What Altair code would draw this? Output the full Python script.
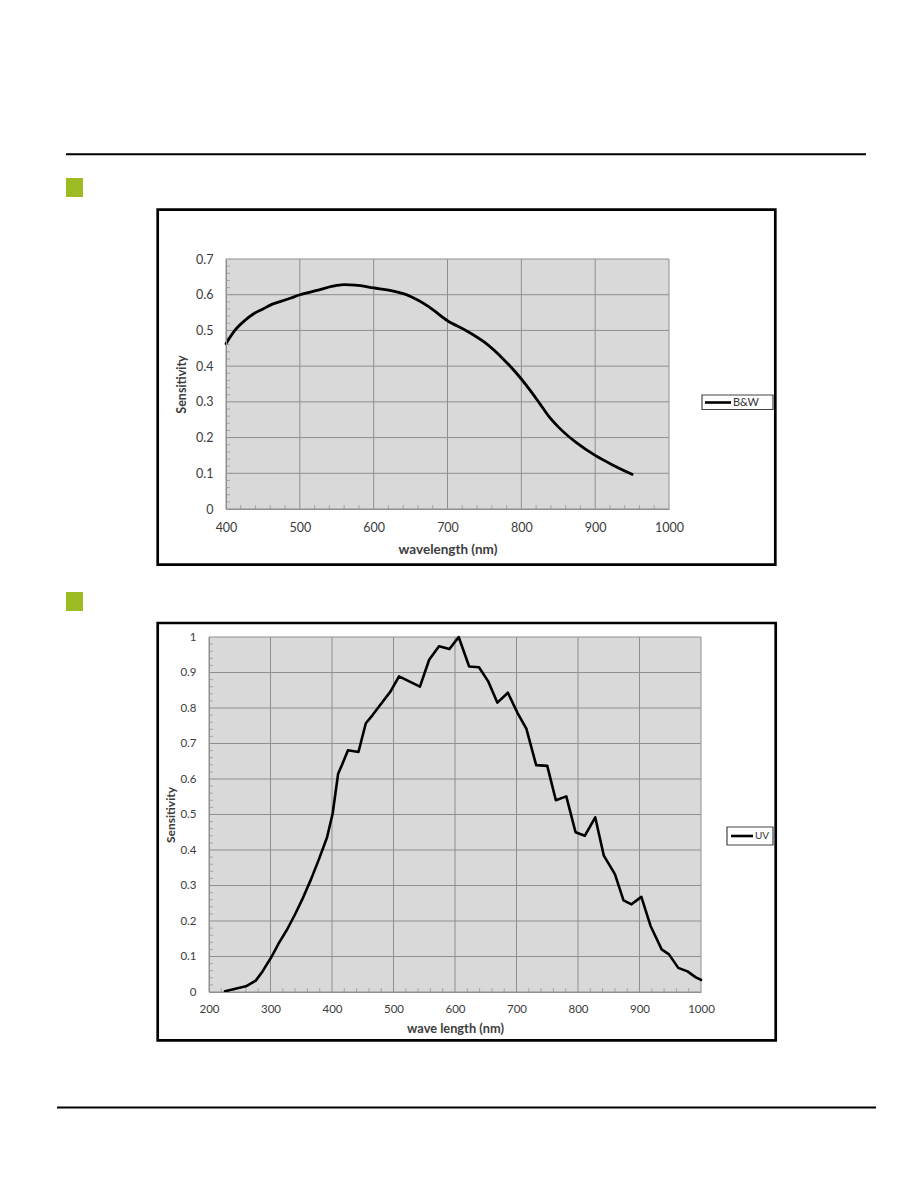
import altair as alt
import pandas as pd

# ---------------- data ----------------
bw_wavelength = [400, 412, 425, 437, 450, 462, 475, 487, 500, 525, 550, 560, 575, 600,
                 625, 640, 650, 675, 700, 725, 750, 775, 800, 812, 825, 837, 850, 875,
                 900, 925, 950]
bw_sensitivity = [0.463, 0.500, 0.527, 0.546, 0.560, 0.573, 0.582, 0.590, 0.600, 0.613,
                  0.626, 0.628, 0.627, 0.619, 0.611, 0.603, 0.595, 0.566, 0.527, 0.500,
                  0.467, 0.421, 0.364, 0.332, 0.295, 0.260, 0.230, 0.185, 0.150, 0.122,
                  0.097]

uv_wavelength = [226, 248, 260, 276, 287, 302, 314, 327, 340, 353, 366, 379, 392, 401,
                 410, 417, 426, 443, 455, 466, 478, 495, 509, 543, 558, 574, 591, 606,
                 623, 639, 654, 669, 686, 702, 716, 732, 750, 764, 781, 796, 811, 828,
                 842, 860, 874, 887, 903, 918, 936, 948, 963, 978, 991, 1000]
uv_sensitivity = [0.002, 0.011, 0.016, 0.032, 0.058, 0.100, 0.139, 0.176, 0.219, 0.266,
                  0.318, 0.375, 0.436, 0.502, 0.615, 0.643, 0.681, 0.676, 0.757, 0.780,
                  0.808, 0.846, 0.889, 0.860, 0.936, 0.974, 0.966, 1.000, 0.917, 0.915,
                  0.875, 0.815, 0.843, 0.785, 0.742, 0.639, 0.637, 0.540, 0.551, 0.450,
                  0.440, 0.492, 0.384, 0.332, 0.258, 0.247, 0.268, 0.186, 0.120, 0.106,
                  0.068, 0.058, 0.042, 0.034]

bw_xticks = [400, 500, 600, 700, 800, 900, 1000]
bw_yticks = [0, 0.1, 0.2, 0.3, 0.4, 0.5, 0.6, 0.7]
uv_xticks = [200, 300, 400, 500, 600, 700, 800, 900, 1000]
uv_yticks = [0, 0.1, 0.2, 0.3, 0.4, 0.5, 0.6, 0.7, 0.8, 0.9, 1]

# minor (inward) tick marks, as in the reference
bw_xminor = [420, 440, 460, 480, 520, 540, 560, 580, 620, 640, 660, 680, 720, 740, 760,
             780, 820, 840, 860, 880, 920, 940, 960, 980]
bw_yminor = [0.02, 0.04, 0.06, 0.08, 0.12, 0.14, 0.16, 0.18, 0.22, 0.24, 0.26, 0.28,
             0.32, 0.34, 0.36, 0.38, 0.42, 0.44, 0.46, 0.48, 0.52, 0.54, 0.56, 0.58,
             0.62, 0.64, 0.66, 0.68]
uv_xminor = [220, 240, 260, 280, 320, 340, 360, 380, 420, 440, 460, 480, 520, 540, 560,
             580, 620, 640, 660, 680, 720, 740, 760, 780, 820, 840, 860, 880, 920, 940,
             960, 980]
uv_yminor = [0.02, 0.04, 0.06, 0.08, 0.12, 0.14, 0.16, 0.18, 0.22, 0.24, 0.26, 0.28,
             0.32, 0.34, 0.36, 0.38, 0.42, 0.44, 0.46, 0.48, 0.52, 0.54, 0.56, 0.58,
             0.62, 0.64, 0.66, 0.68, 0.72, 0.74, 0.76, 0.78, 0.82, 0.84, 0.86, 0.88,
             0.92, 0.94, 0.96, 0.98]

series_names = ["B&W", "UV"]
x_titles = ["wavelength (nm)", "wave length (nm)"]
y_title = "Sensitivity"

# ---------------- styles ----------------
FONT = "Lato"
LABEL_COLOR = "#3c3c3c"
GRID_COLOR = "#8f8f8f"
PLOT_BG = "#d9d9d9"
GREEN = "#9dbb22"

one = pd.DataFrame({"k": [0]})


def hrule(x1, x2, y, w, color="black"):
    return alt.Chart(one).mark_rule(color=color, strokeWidth=w).encode(
        x=alt.value(x1), x2=alt.value(x2), y=alt.value(y))


def box(x1, x2, y1, y2, fill=None, stroke=None, sw=0):
    kw = {}
    if fill is not None:
        kw["fill"] = fill
    else:
        kw["fillOpacity"] = 0
    if stroke is not None:
        kw["stroke"] = stroke
        kw["strokeWidth"] = sw
    return alt.Chart(one).mark_rect(**kw).encode(
        x=alt.value(x1), x2=alt.value(x2), y=alt.value(y1), y2=alt.value(y2))


def label(x, y, txt, size, color="#333333"):
    return alt.Chart(one).mark_text(
        font=FONT, fontSize=size, color=color, align="left", baseline="middle"
    ).encode(x=alt.value(x), y=alt.value(y), text=alt.value(txt))


def panel(wl, sens, xticks, yticks, xminor, yminor, xr, yr, xtitle, title_x,
          title_y_x, title_y_y, xtitle_dy, lab_size, xtitle_size, ytitle_size,
          x_pad, y_pad, line_w, interp):
    xs = alt.Scale(domain=[xticks[0], xticks[-1]], range=xr, nice=False, zero=False)
    ys = alt.Scale(domain=[yticks[0], yticks[-1]], range=yr, nice=False, zero=False)
    xaxis = alt.Axis(
        orient="bottom", offset=yr[0] - 1188, values=xticks, format="d", grid=False,
        ticks=False, tickSize=0, labelPadding=x_pad, labelFlush=False, labelOverlap=False,
        labelFont=FONT, labelFontSize=lab_size, labelColor=LABEL_COLOR,
        domainColor=GRID_COLOR, domainWidth=1,
        title=xtitle, titleFont=FONT, titleFontSize=xtitle_size, titleFontWeight="bold",
        titleColor=LABEL_COLOR, titleX=title_x, titleY=xtitle_dy, titleAngle=0,
        titleAlign="center", titleBaseline="middle", zindex=1)
    yaxis = alt.Axis(
        orient="left", offset=-xr[0], values=yticks, format="~g", grid=False,
        ticks=False, tickSize=0, labelPadding=y_pad, labelFlush=False, labelOverlap=False,
        labelFont=FONT, labelFontSize=lab_size, labelColor=LABEL_COLOR,
        domainColor=GRID_COLOR, domainWidth=1,
        title=y_title, titleFont=FONT, titleFontSize=ytitle_size, titleFontWeight="bold",
        titleColor=LABEL_COLOR, titleX=title_y_x - xr[0], titleY=title_y_y, titleAngle=270,
        titleAlign="center", titleBaseline="middle", zindex=1)

    corner = pd.DataFrame({"x0": [xticks[0]], "x1": [xticks[-1]],
                           "y0": [yticks[0]], "y1": [yticks[-1]]})
    bg = alt.Chart(corner).mark_rect(fill=PLOT_BG).encode(
        x=alt.X("x0:Q", scale=xs, axis=xaxis), x2="x1",
        y=alt.Y("y0:Q", scale=ys, axis=yaxis), y2="y1")
    vg = alt.Chart(pd.DataFrame({"t": xticks, "lo": [yticks[0]] * len(xticks),
                                 "hi": [yticks[-1]] * len(xticks)})).mark_rule(
        color=GRID_COLOR, strokeWidth=1).encode(
        x=alt.X("t:Q", scale=xs, axis=xaxis),
        y=alt.Y("lo:Q", scale=ys, axis=yaxis), y2="hi")
    hg = alt.Chart(pd.DataFrame({"t": yticks, "lo": [xticks[0]] * len(yticks),
                                 "hi": [xticks[-1]] * len(yticks)})).mark_rule(
        color=GRID_COLOR, strokeWidth=1).encode(
        y=alt.Y("t:Q", scale=ys, axis=yaxis),
        x=alt.X("lo:Q", scale=xs, axis=xaxis), x2="hi")
    mx = alt.Chart(pd.DataFrame({"t": xminor})).mark_tick(
        color=GRID_COLOR, size=4, thickness=1, orient="vertical").encode(
        x=alt.X("t:Q", scale=xs, axis=xaxis), y=alt.value(yr[0] - 2))
    my = alt.Chart(pd.DataFrame({"t": yminor})).mark_tick(
        color=GRID_COLOR, size=4, thickness=1, orient="horizontal").encode(
        y=alt.Y("t:Q", scale=ys, axis=yaxis), x=alt.value(xr[0] + 2))
    line = alt.Chart(pd.DataFrame({"wl": wl, "s": sens})).mark_line(
        color="black", strokeWidth=line_w, interpolate=interp,
        strokeJoin="round", strokeCap="round").encode(
        x=alt.X("wl:Q", scale=xs, axis=xaxis),
        y=alt.Y("s:Q", scale=ys, axis=yaxis))
    return alt.layer(bg, vg, hg, mx, my, line)


chart1 = panel(bw_wavelength, bw_sensitivity, bw_xticks, bw_yticks, bw_xminor, bw_yminor,
               [226, 669], [509, 259], x_titles[0], 447.5, 181.5, 384,
               40, 12.5, 13.5, 12.5, 12, 13, 2.8, "monotone")
chart2 = panel(uv_wavelength, uv_sensitivity, uv_xticks, uv_yticks, uv_xminor, uv_yminor,
               [209, 701], [992, 637], x_titles[1], 455, 170, 814.5,
               36, 11.5, 12.8, 12, 11, 13, 2.6, "linear")

decor = [
    hrule(66, 866, 154.3, 2),
    hrule(57, 876, 1107.5, 2),
    box(66, 83, 178, 197, fill=GREEN),
    box(66, 83, 592, 611, fill=GREEN),
    box(157.7, 775.3, 209.7, 564.7, stroke="black", sw=2.7),
    box(157.7, 775.7, 623, 1040.3, stroke="black", sw=2.7),
]

legends = [
    box(702, 773, 395, 409.5, stroke="#444444", sw=1.2),
    hrule(705, 731, 402.5, 2.6),
    label(733, 402.5, series_names[0], 11),
    box(727, 773, 827, 845, stroke="#444444", sw=1.2),
    hrule(731, 753, 836, 2.6),
    label(755, 836, series_names[1], 10),
]

chart = alt.layer(*decor, chart1, chart2, *legends).resolve_scale(
    x="independent", y="independent"
).properties(
    width=918, height=1188, padding=0,
    autosize=alt.AutoSizeParams(type="none"), background="white"
).configure_view(strokeWidth=0)

chart.save("out.html", embed_options={"renderer": "svg", "actions": False})
